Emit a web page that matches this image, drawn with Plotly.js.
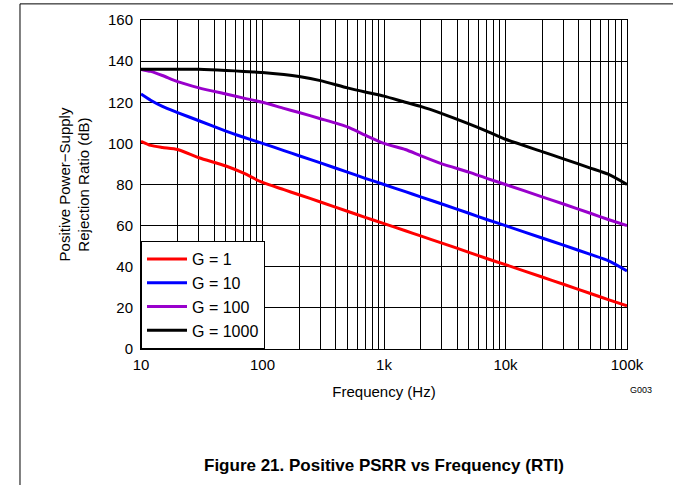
<!DOCTYPE html>
<html><head><script src="https://cdn.plot.ly/plotly-3.0.1.min.js"></script>
<style>body{margin:0;}#c{width:673px;height:485px;}</style></head>
<body><div id="c"></div><script>
const freq=[10,12,15,20,30,50,70,100,150,200,300,500,700,1000,1500,2000,3000,5000,7000,10000,20000,30000,50000,70000,100000];
const g1=[101,99,98,97,93,89,85.5,81,77.5,75,71.5,67,64,61,57.5,55,51.5,47,44,41,35,31.5,27,24,21];
const g10=[124,121,118,115,111,106,103,100,96.5,94,90.5,86,83,80,76.5,74,70.5,66,63,60,54,50.5,46,43,38];
const g100=[136,135,133,130,127,124,122,120,117,115,112,108,104,100,97,94,90,86,83,80,74,70.5,66,63,60];
const g1000=[136,136,136,136,136,135.5,135,134.5,133.5,132.5,130.5,127,125,123,120,118,114.5,109.5,106,102,96,92.5,88,85,80];
const names=["G = 1","G = 10","G = 100","G = 1000"];
const colors=["#ff0000","#0000ff","#9900cc","#000000"];
const data=[g1,g10,g100,g1000].map((y,i)=>({x:freq,y:y,name:names[i],mode:"lines",line:{color:colors[i],width:3,shape:"spline",smoothing:0.6}}));
const layout={width:673,height:485,margin:{l:141,r:46,t:20,b:136},
font:{family:"Liberation Sans, Arial",size:15,color:"#000"},
paper_bgcolor:"#fff",plot_bgcolor:"#fff",
xaxis:{type:"log",range:[1,5],tickvals:[10,100,1000,10000,100000],ticktext:["10","100","1k","10k","100k"],
showline:true,mirror:true,linecolor:"#000",linewidth:1,gridcolor:"#000",gridwidth:0.5,ticks:"",ticklabelstandoff:2,
minor:{showgrid:true,gridcolor:"#000",gridwidth:0.5,dtick:"D1"},
title:{text:"Frequency (Hz)",font:{size:15},standoff:14},zeroline:false},
yaxis:{range:[0,160],dtick:20,showline:true,mirror:true,linecolor:"#000",gridcolor:"#000",gridwidth:0.5,ticks:"",zeroline:false,ticklabelstandoff:4,
title:{text:"Positive Power−Supply<br>Rejection Ratio (dB)",font:{size:15},standoff:14}},
legend:{x:0,y:0,xanchor:"left",yanchor:"bottom",bgcolor:"#fff",bordercolor:"#000",borderwidth:1,font:{size:16},itemwidth:40,tracegroupgap:0},
showlegend:true,
annotations:[{text:"G003",xref:"paper",yref:"paper",x:1.055,y:-0.147,showarrow:false,font:{size:9}},
{text:"<b>Figure 21. Positive PSRR vs Frequency (RTI)</b>",xref:"paper",yref:"paper",x:0.5,y:-0.39,showarrow:false,font:{size:17}}],
shapes:[{type:"line",xref:"paper",yref:"paper",x0:-0.249,x1:1.095,y0:1.049,y1:1.049,line:{color:"#000",width:1}},
{type:"line",xref:"paper",yref:"paper",x0:-0.249,x1:-0.249,y0:1.049,y1:-0.42,line:{color:"#000",width:1}}]};
Plotly.newPlot("c",data,layout,{displayModeBar:false});
</script></body></html>
